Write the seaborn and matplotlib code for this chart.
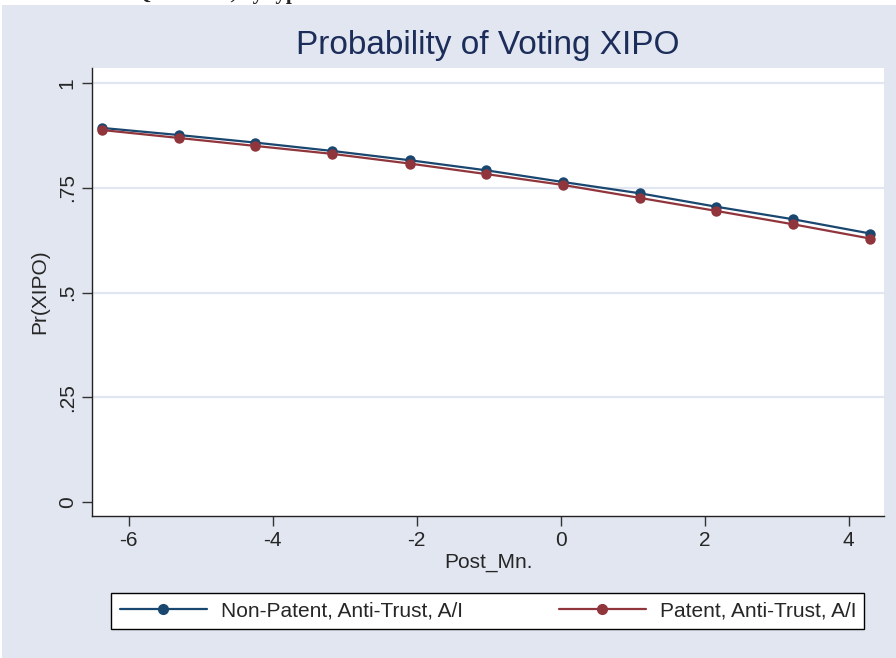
import matplotlib
matplotlib.use("Agg")
import matplotlib.pyplot as plt
from matplotlib.patches import Rectangle
from matplotlib.lines import Line2D
import seaborn as sns
import pandas as pd

# ---- data ----
post_mn = [-6.37, -5.30, -4.24, -3.17, -2.10, -1.04, 0.03, 1.10, 2.16, 3.23, 4.30]
non_patent = [0.893, 0.876, 0.858, 0.838, 0.816, 0.792, 0.764, 0.737, 0.705, 0.675, 0.641]
patent = [0.888, 0.869, 0.850, 0.831, 0.808, 0.783, 0.757, 0.726, 0.695, 0.663, 0.629]
series_names = ["Non-Patent, Anti-Trust, A/I", "Patent, Anti-Trust, A/I"]
y_ticks = [0, 0.25, 0.5, 0.75, 1]
y_ticklabels = ["0", ".25", ".5", ".75", "1"]
x_ticks = [-6, -4, -2, 0, 2, 4]
x_ticklabels = ["-6", "-4", "-2", "0", "2", "4"]

df = pd.DataFrame({
    "Post_Mn.": post_mn * 2,
    "Pr(XIPO)": non_patent + patent,
    "series": [series_names[0]] * len(post_mn) + [series_names[1]] * len(post_mn),
})

sns.set_theme(style="white")
plt.rcParams["font.family"] = ["Liberation Sans", "DejaVu Sans"]

BG = "#E1E6F0"
NAVY = "#1A476F"
MAROON = "#90353B"
palette = {series_names[0]: NAVY, series_names[1]: MAROON}

fig = plt.figure(figsize=(8.96, 6.58), dpi=100, facecolor="white")
fig.patches.append(Rectangle((2 / 896, 0), 1, 1 - 5 / 658, transform=fig.transFigure,
                             facecolor=BG, edgecolor="none", zorder=-10))
# heading of the page, mostly cut off at the top edge as in the reference
fig.text(135 / 896, 1 + 0.5 / 658, "Question 1, by type", ha="left", va="baseline",
         fontsize=15, fontweight="bold", family="Liberation Serif")

ax = fig.add_axes([92 / 896, 1 - 516 / 658, 792 / 896, 448 / 658])
ax.set_facecolor("white")

sns.lineplot(data=df, x="Post_Mn.", y="Pr(XIPO)", hue="series", palette=palette,
             marker="o", markersize=7.5, markeredgewidth=0, linewidth=1.6,
             ax=ax, legend=False, zorder=3)

for yv in [0.25, 0.5, 0.75, 1.0]:
    ax.axhline(yv, color=BG, linewidth=1.6, zorder=1)

ax.set_xlim(-6.51, 4.49)
ax.set_ylim(-0.033, 1.036)
ax.set_xticks(x_ticks)
ax.set_xticklabels(x_ticklabels, fontsize=15)
ax.set_yticks(y_ticks)
ax.set_yticklabels(y_ticklabels, fontsize=15, rotation=90, va="center")
ax.tick_params(axis="both", direction="out", length=7, width=1, color="#333333",
               left=True, bottom=True, pad=4)
for s in ["top", "right"]:
    ax.spines[s].set_visible(False)
for s in ["left", "bottom"]:
    ax.spines[s].set_color("#222222")
    ax.spines[s].set_linewidth(1)

ax.set_xlabel("Post_Mn.", fontsize=15, labelpad=2)
ax.set_ylabel("Pr(XIPO)", fontsize=15, labelpad=6)
ax.set_title("Probability of Voting XIPO", fontsize=24, color="#1C2D5A", pad=10)

handles = [Line2D([0, 0.5, 1], [0, 0, 0], color=palette[n], linewidth=1.6, marker="o",
                  markersize=7, markevery=[1]) for n in series_names]
leg = fig.legend(handles, series_names, ncol=2, loc="center",
                 bbox_to_anchor=((111.7 + 864) / 2 / 896, 1 - 611 / 658),
                 fontsize=15, frameon=True, fancybox=False, framealpha=1,
                 edgecolor="black", handlelength=4.2, handletextpad=0.65,
                 columnspacing=4.6, borderaxespad=0, borderpad=0.4)
leg.get_frame().set_linewidth(1)
leg.get_frame().set_facecolor("white")

fig.savefig("out.png", dpi=100, facecolor=fig.get_facecolor())
